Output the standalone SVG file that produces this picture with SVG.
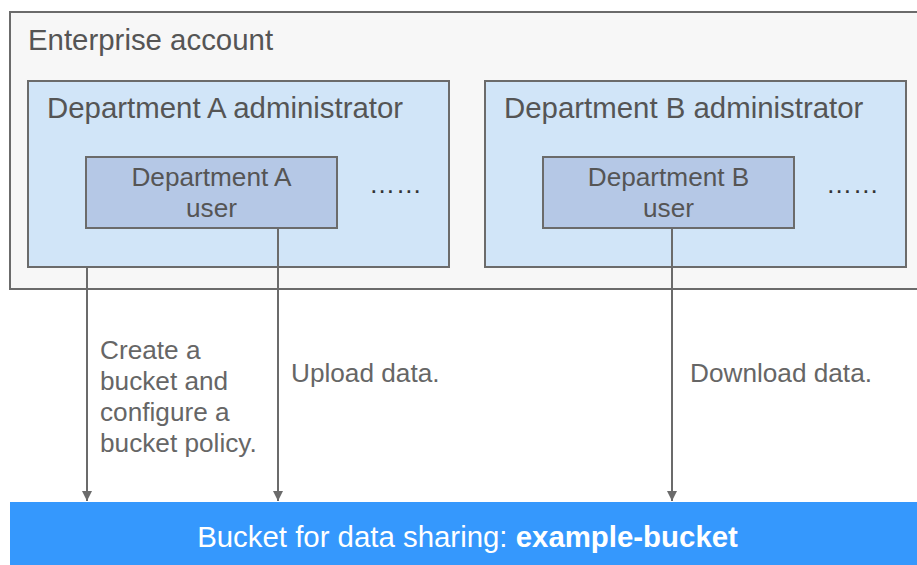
<svg xmlns="http://www.w3.org/2000/svg" width="917" height="565" viewBox="0 0 917 565">
<defs>
<style>
.box{stroke:#6b6b6b;stroke-width:2}
.outer{fill:#f7f7f7}
.admin{fill:#d1e5f8}
.user{fill:#b5c8e6}
.t{font-family:"Liberation Sans",Arial,sans-serif;fill:#555555}
.big{font-size:29.4px}
.mid{font-size:26.2px}
.dots{font-family:"Liberation Sans",Arial,sans-serif;font-size:26.2px;fill:#333333}
.lbl{font-family:"Liberation Sans",Arial,sans-serif;font-size:26.2px;fill:#666666}
.conn{stroke:#6b6b6b;stroke-width:2;fill:none;marker-end:url(#arr)}
</style>
<marker id="arr" viewBox="0 0 10 14" refX="10" refY="7" markerWidth="11" markerHeight="14" markerUnits="userSpaceOnUse" orient="auto">
<path d="M0,2 L10,7 L0,12 Z" fill="#6b6b6b"/>
</marker>
</defs>
<rect width="917" height="565" fill="#ffffff"/>
<g id="enterprise">
<rect class="box outer" x="10" y="12" width="912" height="277"/>
<text class="t big" x="28" y="50">Enterprise account</text>
</g>
<g id="adminA">
<rect class="box admin" x="28" y="81" width="421" height="186"/>
<text class="t big" x="47" y="118">Department A administrator</text>
<text class="dots" x="369" y="193" textLength="53" lengthAdjust="spacing">……</text>
</g>
<g id="userA">
<rect class="box user" x="86" y="157" width="251" height="71"/>
<text class="t mid" x="211.5" y="186" text-anchor="middle">Department A</text>
<text class="t mid" x="211.5" y="217" text-anchor="middle">user</text>
</g>
<g id="adminB">
<rect class="box admin" x="485" y="81" width="421" height="186"/>
<text class="t big" x="504" y="118">Department B administrator</text>
<text class="dots" x="826" y="193" textLength="53" lengthAdjust="spacing">……</text>
</g>
<g id="userB">
<rect class="box user" x="543" y="157" width="251" height="71"/>
<text class="t mid" x="668.5" y="186" text-anchor="middle">Department B</text>
<text class="t mid" x="668.5" y="217" text-anchor="middle">user</text>
</g>
<g id="bucket">
<rect x="10" y="502" width="912" height="63" fill="#3598fd"/>
<text x="467.5" y="547" text-anchor="middle" font-family="'Liberation Sans',Arial,sans-serif" font-size="29.4" fill="#ffffff">Bucket for data sharing: <tspan font-weight="bold">example-bucket</tspan></text>
</g>
<g id="connectors">
<line class="conn" x1="87" y1="267" x2="87" y2="501"/>
<line class="conn" x1="278" y1="228" x2="278" y2="501"/>
<line class="conn" x1="672" y1="228" x2="672" y2="501"/>
<text class="lbl" x="100" y="359">Create a</text>
<text class="lbl" x="100" y="390">bucket and</text>
<text class="lbl" x="100" y="421">configure a</text>
<text class="lbl" x="100" y="452">bucket policy.</text>
<text class="lbl" x="291" y="382">Upload data.</text>
<text class="lbl" x="690" y="382">Download data.</text>
</g>
</svg>
